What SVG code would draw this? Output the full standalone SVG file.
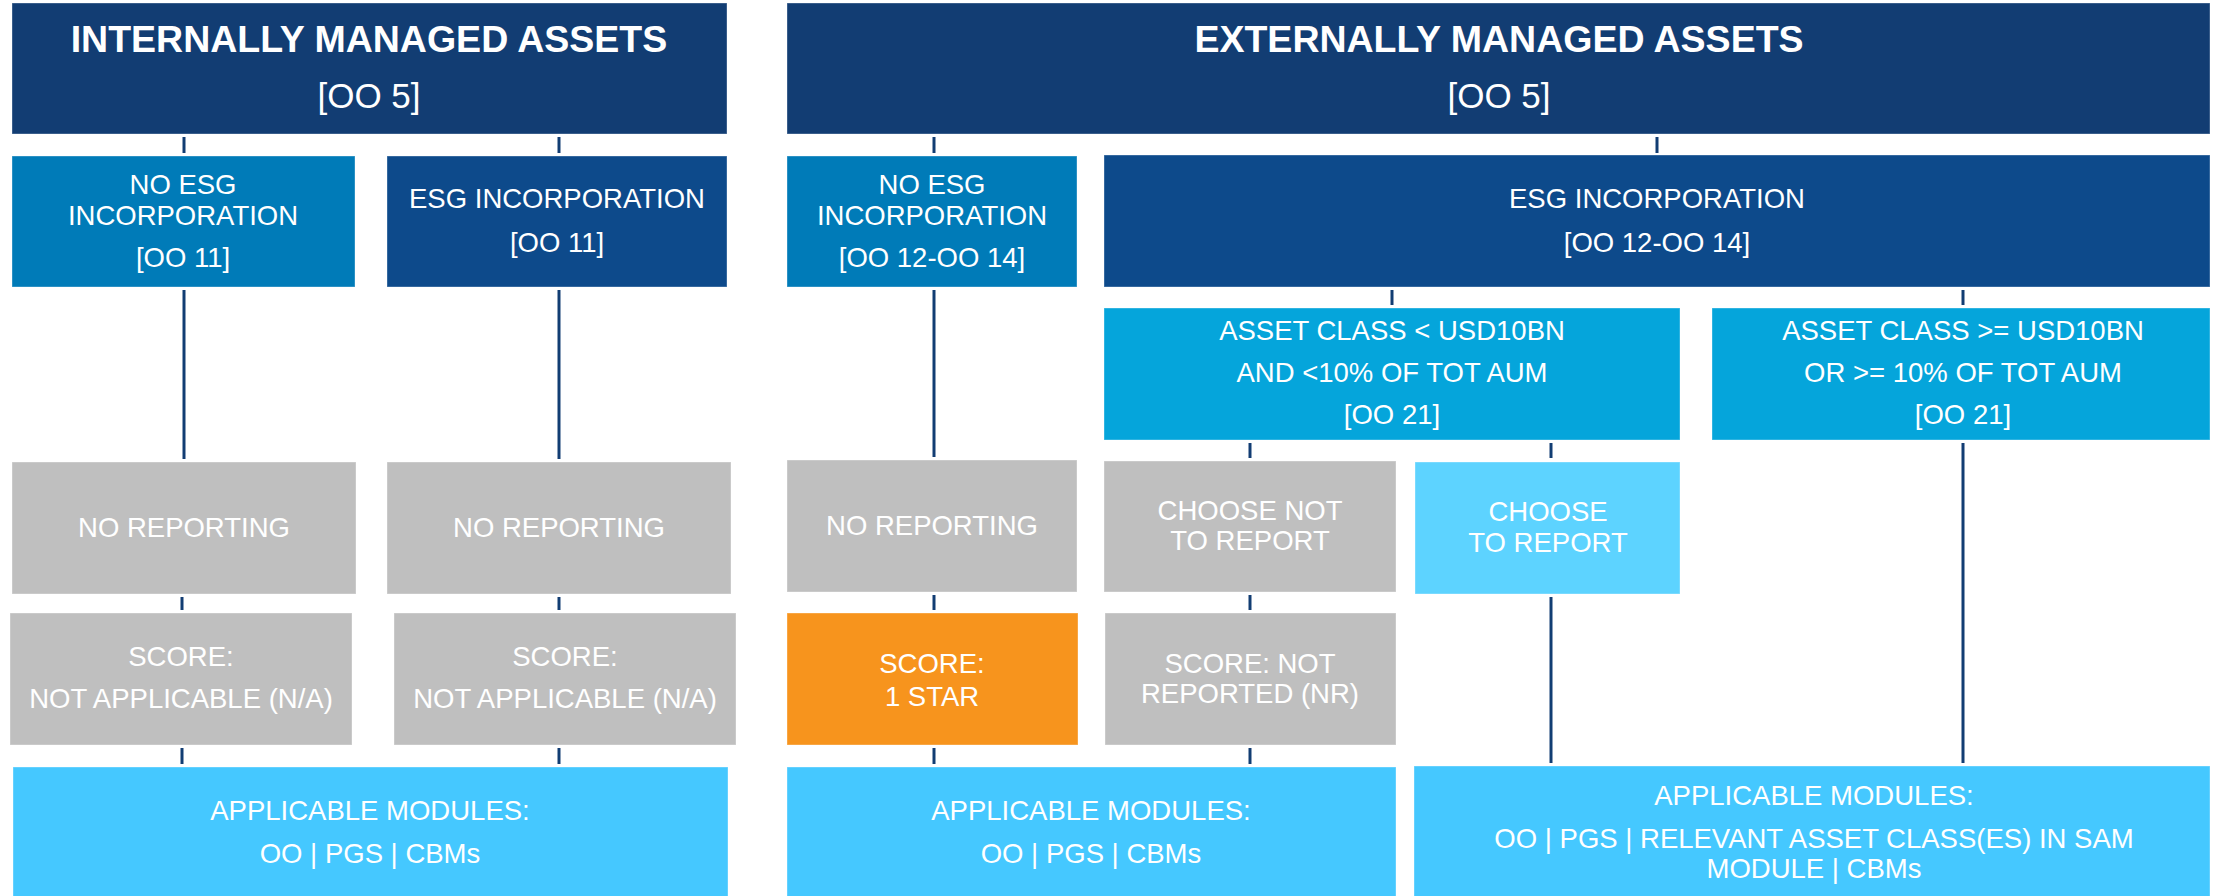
<svg xmlns="http://www.w3.org/2000/svg" width="2218" height="896" viewBox="0 0 2218 896">
<style>
text{font-family:"Liberation Sans",Arial,sans-serif;fill:#fff;text-anchor:middle;font-size:27.5px}
.title{font-weight:bold;font-size:37.5px}
.sub{font-size:35px}
.navy{fill:#123D73}
.esg{fill:#0D4A8B}
.noesg{fill:#007BB8}
.ac{fill:#05A5DB}
.gray{fill:#BFBFBF}
.orange{fill:#F7941D}
.choose{fill:#5DD3FF}
.mod{fill:#45C8FF}
rect{stroke:#ffffff;stroke-opacity:0.35;stroke-width:1}
.conn line{stroke:#123D73;stroke-width:3}
</style>
<rect width="2218" height="896" fill="#fff" stroke="none"/>
<g class="conn" id="connectors">
<line x1="184" y1="137" x2="184" y2="153"/>
<line x1="559" y1="137" x2="559" y2="153"/>
<line x1="184" y1="290" x2="184" y2="459"/>
<line x1="559" y1="290" x2="559" y2="459"/>
<line x1="182" y1="597" x2="182" y2="610"/>
<line x1="559" y1="597" x2="559" y2="610"/>
<line x1="182" y1="748" x2="182" y2="764"/>
<line x1="559" y1="748" x2="559" y2="764"/>
<line x1="934" y1="137" x2="934" y2="153"/>
<line x1="1657" y1="137" x2="1657" y2="153"/>
<line x1="934" y1="290" x2="934" y2="457"/>
<line x1="1392" y1="290" x2="1392" y2="305"/>
<line x1="1963" y1="290" x2="1963" y2="305"/>
<line x1="1250" y1="443" x2="1250" y2="458"/>
<line x1="1551" y1="443" x2="1551" y2="458"/>
<line x1="1963" y1="443" x2="1963" y2="763"/>
<line x1="934" y1="595" x2="934" y2="610"/>
<line x1="1250" y1="595" x2="1250" y2="610"/>
<line x1="1551" y1="597" x2="1551" y2="763"/>
<line x1="934" y1="748" x2="934" y2="764"/>
<line x1="1250" y1="748" x2="1250" y2="764"/>
</g>
<g id="internal">
<rect class="navy" x="12" y="3" width="715" height="131"/>
<text class="title" x="369" y="52">INTERNALLY MANAGED ASSETS</text>
<text class="sub" x="369" y="108">[OO 5]</text>
</g>
<g id="external">
<rect class="navy" x="787" y="3" width="1423" height="131"/>
<text class="title" x="1499" y="52">EXTERNALLY MANAGED ASSETS</text>
<text class="sub" x="1499" y="108">[OO 5]</text>
</g>
<g id="int-no-esg">
<rect class="noesg" x="12" y="156" width="343" height="131"/>
<text x="183" y="194">NO ESG</text>
<text x="183" y="225">INCORPORATION</text>
<text x="183" y="267">[OO 11]</text>
</g>
<g id="int-esg">
<rect class="esg" x="387" y="156" width="340" height="131"/>
<text x="557" y="208">ESG INCORPORATION</text>
<text x="557" y="252">[OO 11]</text>
</g>
<g id="ext-no-esg">
<rect class="noesg" x="787" y="156" width="290" height="131"/>
<text x="932" y="194">NO ESG</text>
<text x="932" y="225">INCORPORATION</text>
<text x="932" y="267">[OO 12-OO 14]</text>
</g>
<g id="ext-esg">
<rect class="esg" x="1104" y="155" width="1106" height="132"/>
<text x="1657" y="208">ESG INCORPORATION</text>
<text x="1657" y="252">[OO 12-OO 14]</text>
</g>
<g id="ac-small">
<rect class="ac" x="1104" y="308" width="576" height="132"/>
<text x="1392" y="340">ASSET CLASS &lt; USD10BN</text>
<text x="1392" y="382">AND &lt;10% OF TOT AUM</text>
<text x="1392" y="424">[OO 21]</text>
</g>
<g id="ac-large">
<rect class="ac" x="1712" y="308" width="498" height="132"/>
<text x="1963" y="340">ASSET CLASS &gt;= USD10BN</text>
<text x="1963" y="382">OR &gt;= 10% OF TOT AUM</text>
<text x="1963" y="424">[OO 21]</text>
</g>
<g id="int-noreport-1">
<rect class="gray" x="12" y="462" width="344" height="132"/>
<text x="184" y="537">NO REPORTING</text>
</g>
<g id="int-noreport-2">
<rect class="gray" x="387" y="462" width="344" height="132"/>
<text x="559" y="537">NO REPORTING</text>
</g>
<g id="ext-noreport">
<rect class="gray" x="787" y="460" width="290" height="132"/>
<text x="932" y="535">NO REPORTING</text>
</g>
<g id="choose-not">
<rect class="gray" x="1104" y="461" width="292" height="131"/>
<text x="1250" y="520">CHOOSE NOT</text>
<text x="1250" y="550">TO REPORT</text>
</g>
<g id="choose">
<rect class="choose" x="1415" y="462" width="265" height="132"/>
<text x="1548" y="521">CHOOSE</text>
<text x="1548" y="552">TO REPORT</text>
</g>
<g id="int-score-1">
<rect class="gray" x="10" y="613" width="342" height="132"/>
<text x="181" y="666">SCORE:</text>
<text x="181" y="708">NOT APPLICABLE (N/A)</text>
</g>
<g id="int-score-2">
<rect class="gray" x="394" y="613" width="342" height="132"/>
<text x="565" y="666">SCORE:</text>
<text x="565" y="708">NOT APPLICABLE (N/A)</text>
</g>
<g id="score-star">
<rect class="orange" x="787" y="613" width="291" height="132"/>
<text x="932" y="673">SCORE:</text>
<text x="932" y="706">1 STAR</text>
</g>
<g id="score-nr">
<rect class="gray" x="1105" y="613" width="291" height="132"/>
<text x="1250" y="673">SCORE: NOT</text>
<text x="1250" y="703">REPORTED (NR)</text>
</g>
<g id="int-modules">
<rect class="mod" x="13" y="767" width="715" height="130"/>
<text x="370" y="820">APPLICABLE MODULES:</text>
<text x="370" y="863">OO | PGS | CBMs</text>
</g>
<g id="ext-modules-1">
<rect class="mod" x="787" y="767" width="609" height="130"/>
<text x="1091" y="820">APPLICABLE MODULES:</text>
<text x="1091" y="863">OO | PGS | CBMs</text>
</g>
<g id="ext-modules-2">
<rect class="mod" x="1414" y="766" width="796" height="131"/>
<text x="1814" y="805">APPLICABLE MODULES:</text>
<text x="1814" y="848">OO | PGS | RELEVANT ASSET CLASS(ES) IN SAM</text>
<text x="1814" y="878">MODULE | CBMs</text>
</g>
</svg>
